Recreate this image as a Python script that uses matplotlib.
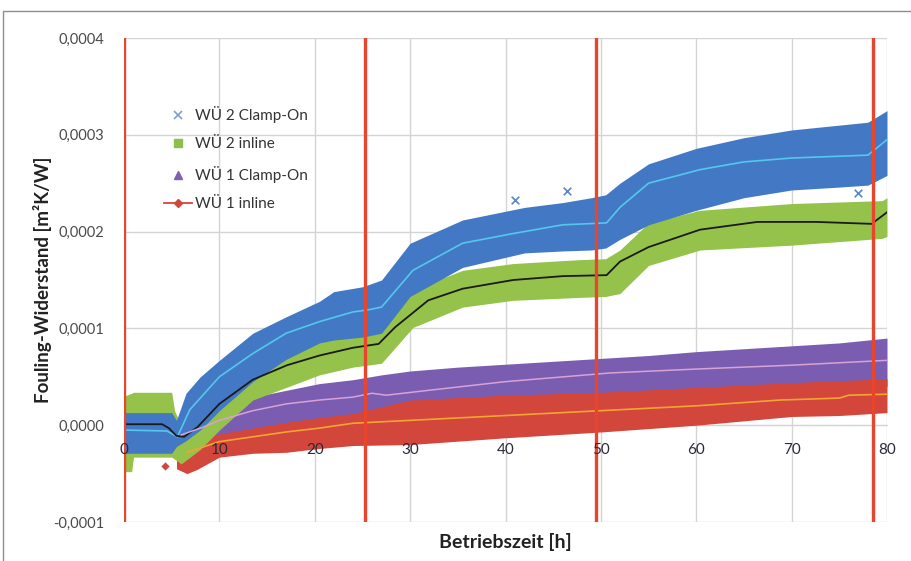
import numpy as np
import matplotlib
matplotlib.use("Agg")
import matplotlib.pyplot as plt
from matplotlib.lines import Line2D
from matplotlib.patches import Rectangle
from matplotlib.ticker import FuncFormatter

plt.rcParams["font.family"] = ["Lato", "DejaVu Sans"]

S = 1e-4  # values below are read in units of 0.0001 m²K/W

# WÜ 2 Clamp-On (blue band + light blue moving average)
t_blue = [0, 5, 5.5, 6.5, 8, 10, 13.5, 17, 20.5, 22, 25, 27, 30, 35.5, 42, 46, 49,
          50.5, 52, 55, 60, 65, 70, 75, 78, 80]
blue_top = [0.13, 0.13, 0.05, 0.33, 0.50, 0.67, 0.95, 1.12, 1.28, 1.38, 1.43, 1.50, 1.88,
            2.12, 2.25, 2.30, 2.35, 2.38, 2.50, 2.70, 2.86, 2.97, 3.05, 3.10, 3.13, 3.25]
blue_bot = [-0.29, -0.29, -0.22, -0.16, -0.05, 0.15, 0.45, 0.68, 0.85, 0.88, 0.91, 0.95,
            1.33, 1.63, 1.78, 1.80, 1.81, 1.83, 1.92, 2.07, 2.22, 2.35, 2.43, 2.46, 2.48, 2.58]
t_blue_avg = [0, 4.5, 5.6, 6.9, 10, 13.5, 17, 20.5, 24, 25.5, 27, 30.3, 35.5, 40.8, 46,
              50.6, 52, 55, 60.4, 65, 70, 78, 80]
blue_avg = [-0.05, -0.06, -0.12, 0.16, 0.50, 0.74, 0.95, 1.07, 1.17, 1.19, 1.22, 1.60,
            1.88, 1.98, 2.07, 2.09, 2.25, 2.50, 2.64, 2.72, 2.76, 2.79, 2.95]
blue_out_t = [41, 46.4, 77]
blue_out_v = [2.33, 2.42, 2.40]

# WÜ 2 inline (green band + black moving average)
t_green = [0, 0.8, 1.0, 5, 5.3, 6, 8, 10, 13.5, 17, 20.5, 24, 27, 30.3, 35.5, 40.8, 47.7,
           50.5, 52, 55, 60.4, 70, 79.5, 80]
green_top = [0.30, 0.33, 0.34, 0.34, 0.15, 0.00, 0.10, 0.30, 0.55, 0.75, 0.92, 0.98, 1.00,
             1.40, 1.60, 1.67, 1.71, 1.72, 1.81, 2.09, 2.22, 2.29, 2.32, 2.35]
green_bot = [-0.48, -0.48, -0.33, -0.33, -0.35, -0.40, -0.25, -0.05, 0.26, 0.39, 0.52, 0.60,
             0.64, 1.01, 1.22, 1.29, 1.32, 1.33, 1.36, 1.65, 1.81, 1.86, 1.93, 1.95]
t_green_avg = [0, 4, 4.7, 5.5, 6.3, 7.7, 10, 13.5, 17.1, 20.5, 24, 26.7, 28.4, 31.9, 35.5,
               40.8, 46, 50.6, 52, 55, 60.4, 66.4, 72.6, 78.4, 79.6, 80]
green_avg = [0.01, 0.01, -0.03, -0.11, -0.12, -0.02, 0.22, 0.47, 0.62, 0.72, 0.80, 0.84,
             1.01, 1.29, 1.41, 1.50, 1.54, 1.55, 1.69, 1.84, 2.02, 2.10, 2.10, 2.08, 2.17, 2.20]

# WÜ 1 Clamp-On (purple band + pink moving average)
t_purple = [5.5, 8, 10, 13.5, 17, 20.5, 24, 27, 30, 35, 40, 45, 50, 55, 60, 65, 70, 75, 80]
purple_top = [-0.10, 0.02, 0.15, 0.29, 0.36, 0.43, 0.47, 0.52, 0.56, 0.60, 0.63, 0.66,
              0.69, 0.72, 0.76, 0.79, 0.82, 0.85, 0.90]
purple_bot = [-0.30, -0.30, -0.20, -0.10, 0.00, 0.05, 0.10, 0.12, 0.15, 0.18, 0.20, 0.23,
              0.26, 0.28, 0.30, 0.33, 0.35, 0.38, 0.40]
t_purple_avg = [6, 8.3, 10, 13.5, 17, 20.5, 24, 26, 27.5, 31.9, 40, 51, 60, 70, 80]
purple_avg = [-0.10, -0.02, 0.05, 0.15, 0.22, 0.26, 0.29, 0.33, 0.31, 0.36, 0.45, 0.54,
              0.58, 0.62, 0.67]

# WÜ 1 inline (red band + orange moving average)
t_red = [5.5, 6.6, 7.6, 10, 13.5, 17, 20.5, 24, 30, 40, 50, 60, 70, 75, 80]
red_top = [-0.26, -0.20, -0.16, -0.09, -0.03, 0.03, 0.08, 0.12, 0.26, 0.31, 0.34, 0.39,
           0.44, 0.46, 0.48]
red_bot = [-0.45, -0.50, -0.46, -0.33, -0.29, -0.28, -0.24, -0.21, -0.20, -0.13, -0.07,
           0.00, 0.09, 0.10, 0.13]
t_red_avg = [6.6, 10, 13.5, 17, 20.5, 24, 30, 40, 50, 60, 68.8, 75, 76, 80]
red_avg = [-0.28, -0.17, -0.12, -0.07, -0.03, 0.02, 0.05, 0.10, 0.15, 0.20, 0.26, 0.28,
           0.31, 0.32]
red_out_t = [4.3]
red_out_v = [-0.42]

# phase markers (vertical red lines)
phase_t = [0, 25.3, 49.5, 78.5]

x_ticks = [0, 10, 20, 30, 40, 50, 60, 70, 80]
y_ticks = [-1, 0, 1, 2, 3, 4]
labels = ["WÜ 2 Clamp-On", "WÜ 2 inline", "WÜ 1 Clamp-On", "WÜ 1 inline"]

C_BLUE, C_GREEN, C_PURPLE, C_RED = "#4379c4", "#95c24a", "#7a5db0", "#d2463c"


def arr(v):
    return np.array(v) * S


fig = plt.figure(figsize=(9.11, 5.61), dpi=100)
ax = fig.add_axes([124 / 911, 1 - 522 / 561, (887 - 124) / 911, (522 - 38) / 561])

# outer chart frame
fig.patches.append(Rectangle((3 / 911, -0.05), 1.1, 1 - 11 / 561 + 0.05,
                             transform=fig.transFigure, fill=False,
                             edgecolor="#8c8c8c", linewidth=1.0))

for xt in x_ticks:
    ax.axvline(xt, color="#d4d4d4", lw=1.0, zorder=0)
for yt in y_ticks:
    ax.axhline(yt * S, color="#d4d4d4", lw=1.0, zorder=0)

ax.fill_between(t_purple, arr(purple_bot), arr(purple_top), color=C_PURPLE, lw=0, zorder=1)
ax.fill_between(t_red, arr(red_bot), arr(red_top), color=C_RED, lw=0, zorder=2)
ax.fill_between(t_green, arr(green_bot), arr(green_top), color=C_GREEN, lw=0, zorder=3)
ax.fill_between(t_blue, arr(blue_bot), arr(blue_top), color=C_BLUE, lw=0, zorder=4)

ax.scatter(blue_out_t, arr(blue_out_v), marker="x", s=30, color="#5b86c8", lw=1.2, zorder=4)
ax.scatter(red_out_t, arr(red_out_v), marker="D", s=18, color=C_RED, lw=0, zorder=2)

ax.plot(t_blue_avg, arr(blue_avg), color="#55c6ee", lw=1.2, zorder=6)
ax.plot(t_green_avg, arr(green_avg), color="#1a1a1a", lw=1.3, zorder=6)
ax.plot(t_purple_avg, arr(purple_avg), color="#d8a2d6", lw=1.1, zorder=6)
ax.plot(t_red_avg, arr(red_avg), color="#f2a531", lw=1.2, zorder=6)

for pt in phase_t:
    ax.axvline(pt, color="#e8452c", lw=2.4, zorder=7)

ax.set_xlim(0, 80)
ax.set_ylim(-1 * S, 4 * S)
ax.set_xticks(x_ticks)
ax.set_yticks([v * S for v in y_ticks])
ax.yaxis.set_major_formatter(FuncFormatter(
    lambda v, _: ("-" if v < -1e-9 else "") + f"{abs(v):.4f}".replace(".", ",")))

for sp in ["top", "right", "left"]:
    ax.spines[sp].set_visible(False)
ax.spines["bottom"].set_position(("data", 0))
ax.spines["bottom"].set_color("#d4d4d4")
ax.spines["bottom"].set_zorder(0)
ax.tick_params(axis="both", length=0)
ax.tick_params(axis="x", pad=13, labelsize=11, labelcolor="#2a2a3a")
ax.tick_params(axis="y", pad=14, labelsize=10.5, labelcolor="#4a4a4a")
ax.xaxis.set_zorder(8)

ax.set_xlabel("Betriebszeit [h]", fontsize=14, fontweight="bold", color="#222222")
ax.xaxis.set_label_coords(0.5, -0.022)
ax.set_ylabel("Fouling-Widerstand [m²K/W]", fontsize=13.5, fontweight="bold", color="#222222")
ax.yaxis.set_label_coords(-0.094, 0.5)

handles = [
    Line2D([], [], ls="none", marker="x", color="#7f9fd2", ms=6, mew=1.2),
    Line2D([], [], ls="none", marker="s", color="#8cc04a", ms=6),
    Line2D([], [], ls="none", marker="^", color="#7f60b2", ms=6),
    Line2D([], [], ls="-", marker="D", color="#d2463c", ms=4, lw=1.3),
]
leg = ax.legend(handles, labels, loc="upper left", bbox_to_anchor=(0.035, 0.888),
                frameon=False, fontsize=11, labelspacing=0.95, handlelength=1.8,
                handletextpad=0.2, labelcolor="#333333")
leg.set_zorder(9)

fig.savefig("out.png", dpi=100)
